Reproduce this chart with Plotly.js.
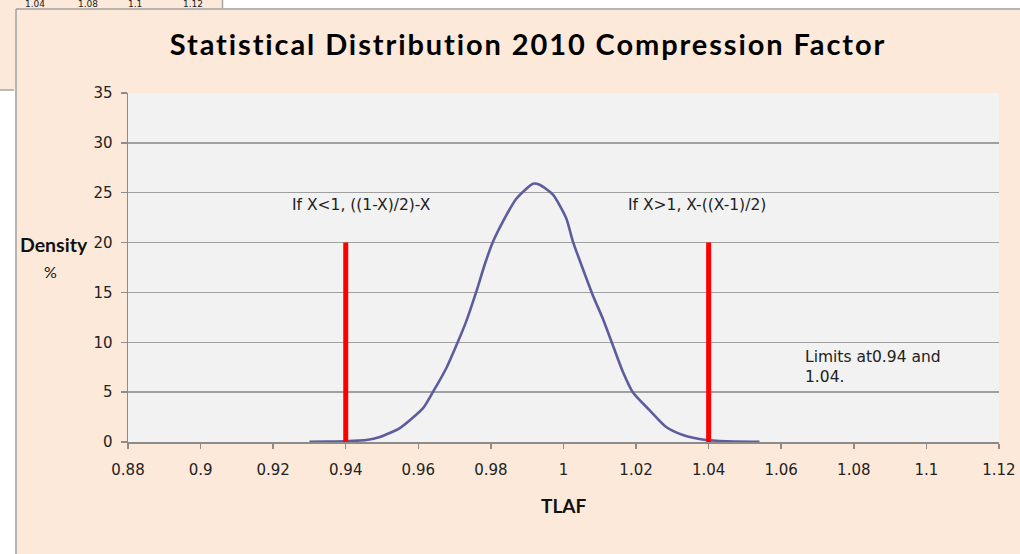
<!DOCTYPE html>
<html>
<head>
<meta charset="utf-8">
<script src="https://cdn.plot.ly/plotly-3.0.1.min.js"></script>
<style>
html,body{margin:0;padding:0;background:#fff;}
#chart{width:1020px;height:554px;}
#chart .gtitle{letter-spacing:1.9px;}
</style>
</head>
<body>
<div id="chart"></div>
<script>
// ---- data ----
const tlaf = [0.930, 0.935, 0.940, 0.9457, 0.9494, 0.9549, 0.9613, 0.9640, 0.9677, 0.9705, 0.9732, 0.9760, 0.9783, 0.9806, 0.9833, 0.9870, 0.9916, 0.9934, 0.9971, 1.0008, 1.0026, 1.0053, 1.0081, 1.0108, 1.0136, 1.0163, 1.0191, 1.0237, 1.0283, 1.0329, 1.0393, 1.045, 1.054];
const density = [0.03, 0.05, 0.08, 0.2, 0.5, 1.4, 3.4, 5.0, 7.4, 9.7, 12.1, 15.1, 17.8, 20.1, 22.1, 24.4, 25.9, 25.8, 24.8, 22.4, 20.1, 17.4, 14.7, 12.4, 9.7, 7.1, 5.0, 3.2, 1.5, 0.7, 0.2, 0.08, 0.03];
const limitX = [0.94, 1.04];
const limitHeight = 20;
const xTickVals = [0.88, 0.90, 0.92, 0.94, 0.96, 0.98, 1.00, 1.02, 1.04, 1.06, 1.08, 1.10, 1.12];
const xTickText = ['0.88', '0.9', '0.92', '0.94', '0.96', '0.98', '1', '1.02', '1.04', '1.06', '1.08', '1.1', '1.12'];
const fragmentLabels = ['1.04', '1.08', '1.1', '1.12'];
const titleText = 'Statistical Distribution 2010 Compression Factor';
const noteLeft = 'If X<1, ((1-X)/2)-X';
const noteRight = 'If X>1, X-((X-1)/2)';
const noteLimits = 'Limits at0.94 and<br>1.04.';

// ---- layout helpers (pixel -> paper) ----
const W = 1020, H = 554, L = 128, R = 21, T = 93, B = 112;
const pw = W - L - R, ph = H - T - B;
const px = v => (v - L) / pw;
const py = v => (H - B - v) / ph;

const traces = [{
  x: tlaf, y: density, type: 'scatter', mode: 'lines',
  line: {color: '#5c5c9e', width: 2.6, shape: 'spline', smoothing: 0.6}, hoverinfo: 'x+y'
}];
limitX.forEach(lx => {
  traces.push({
    x: [lx, lx], y: [0, limitHeight], type: 'scatter', mode: 'lines',
    line: {color: '#ff0000', width: 5}, hoverinfo: 'x'
  });
});

const tickFont = {family: 'DejaVu Sans', size: 15, color: '#222'};
const noteFont = {family: 'DejaVu Sans', size: 15.5, color: '#222'};

const annotations = [
  {xref: 'x', yref: 'y', x: 0.9246, y: 23.8, text: noteLeft, showarrow: false, xanchor: 'left', yanchor: 'middle', font: noteFont},
  {xref: 'x', yref: 'y', x: 1.0171, y: 23.8, text: noteRight, showarrow: false, xanchor: 'left', yanchor: 'middle', font: noteFont},
  {xref: 'x', yref: 'y', x: 1.066, y: 7.5, text: noteLimits, showarrow: false, xanchor: 'left', yanchor: 'middle', align: 'left', font: noteFont},
  {xref: 'paper', yref: 'paper', x: px(54), y: py(244), text: 'Density', showarrow: false, xanchor: 'center', yanchor: 'middle', font: {family: 'Lato', size: 19.5, color: '#111', weight: 'bold'}},
  {xref: 'paper', yref: 'paper', x: px(50), y: py(271), text: '%', showarrow: false, xanchor: 'center', yanchor: 'middle', font: {family: 'Lato', size: 16, color: '#111'}},
  {xref: 'paper', yref: 'paper', x: px(563), y: py(505), text: 'TLAF', showarrow: false, xanchor: 'center', yanchor: 'middle', font: {family: 'Lato', size: 19, color: '#111', weight: 'bold'}}
];
const fragX = [35, 88, 135, 193];
fragmentLabels.forEach((t, i) => {
  annotations.push({xref: 'paper', yref: 'paper', x: px(fragX[i]), y: py(4.5), text: t, showarrow: false,
    xanchor: 'center', yanchor: 'middle', font: {family: 'DejaVu Sans', size: 9, color: '#222'}});
});

const shapes = [
  // white areas outside the chart frames
  {type: 'rect', xref: 'paper', yref: 'paper', x0: px(222), x1: px(1030), y0: py(8), y1: py(-5), fillcolor: '#ffffff', line: {width: 0}, layer: 'below'},
  {type: 'rect', xref: 'paper', yref: 'paper', x0: px(-5), x1: px(15), y0: py(560), y1: py(90), fillcolor: '#ffffff', line: {width: 0}, layer: 'below'},
  // fragment border
  {type: 'line', xref: 'paper', yref: 'paper', x0: px(222.5), x1: px(222.5), y0: py(-2), y1: py(8), line: {color: '#a6a6a6', width: 1.5}},
  {type: 'line', xref: 'paper', yref: 'paper', x0: px(-2), x1: px(14), y0: py(90), y1: py(90), line: {color: '#a6a6a6', width: 1.5}},
  // main frame border
  {type: 'line', xref: 'paper', yref: 'paper', x0: px(16), x1: px(16), y0: py(9), y1: py(560), line: {color: '#a0a0a0', width: 1.5}},
  {type: 'line', xref: 'paper', yref: 'paper', x0: px(16), x1: px(1030), y0: py(9), y1: py(9), line: {color: '#a0a0a0', width: 1.5}}
];

const layout = {
  width: W, height: H,
  margin: {l: L, r: R, t: T, b: B, pad: 0},
  paper_bgcolor: '#fde9d9',
  plot_bgcolor: '#f2f2f2',
  showlegend: false,
  title: {text: titleText, x: 528 / W, xref: 'container', xanchor: 'center', y: 1 - 45 / H, yref: 'container', yanchor: 'middle',
    font: {family: 'Lato', size: 29, color: '#000', weight: 'bold'}},
  xaxis: {
    range: [0.88, 1.12001], tickvals: xTickVals, ticktext: xTickText,
    showgrid: false, zeroline: false, showline: true, linecolor: '#8c8c8c', linewidth: 1.5,
    ticks: 'outside', ticklen: 5, tickcolor: '#8c8c8c', tickwidth: 1.5,
    tickfont: tickFont, ticklabelstandoff: 8, fixedrange: true
  },
  yaxis: {
    range: [0, 35], dtick: 5, tick0: 0,
    showgrid: true, gridcolor: '#a0a0a0', gridwidth: 1.4, zeroline: false,
    showline: true, linecolor: '#8c8c8c', linewidth: 1.5,
    ticks: 'outside', ticklen: 6, tickcolor: '#8c8c8c', tickwidth: 1.5,
    tickfont: tickFont, ticklabelstandoff: 5, fixedrange: true
  },
  annotations: annotations,
  shapes: shapes
};

Plotly.newPlot('chart', traces, layout, {displayModeBar: false, staticPlot: true});
</script>
</body>
</html>
